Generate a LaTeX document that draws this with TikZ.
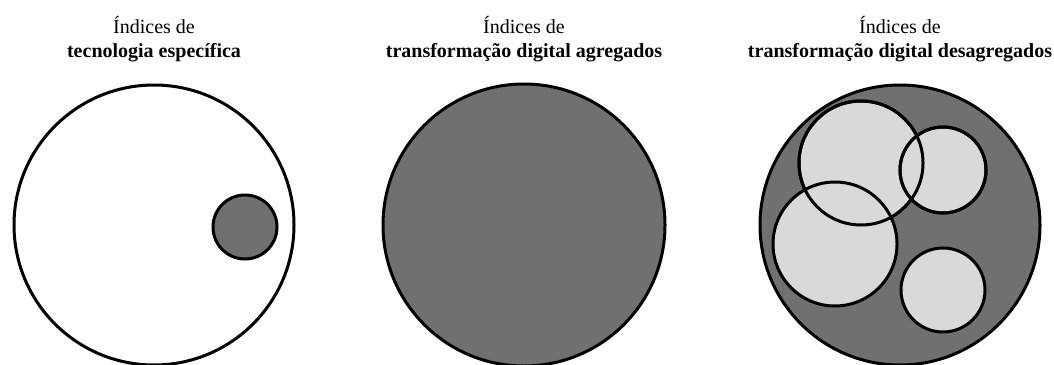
\documentclass[tikz,border=0pt]{standalone}
\usepackage{fontspec}
\setmainfont{Liberation Serif}
\definecolor{darkfill}{HTML}{707070}
\definecolor{lightfill}{HTML}{D9D9D9}
\begin{document}
\begin{tikzpicture}[x=1pt,y=-1pt,
  ring/.style={draw=black,line width=3pt},
  title/.style={font=\fontsize{20}{24}\selectfont,align=center,anchor=base}]
\useasboundingbox (0,0) rectangle (1054,364);
% panel 1
\node[title] (t1a) at (154,33) {Índices de};
\node[title] (t1b) at (154,57) {\bfseries tecnologia específica};
\path[ring,fill=white] (154,225) circle[radius=140];
\path[ring,fill=darkfill] (245,227) circle[radius=32];
% panel 2
\node[title] (t2a) at (524,33) {Índices de};
\node[title] (t2b) at (524,57) {\bfseries transformação digital agregados};
\path[ring,fill=darkfill] (524,225) circle[radius=141];
% panel 3
\node[title] (t3a) at (900,33) {Índices de};
\node[title] (t3b) at (900,57) {\bfseries transformação digital desagregados};
\path[ring,fill=darkfill] (900,225) circle[radius=140];
\path[ring,fill=lightfill] (861,163) circle[radius=62];
\path[ring,fill=lightfill] (943,170) circle[radius=43];
\path[ring,fill=lightfill] (835,244) circle[radius=62];
\path[ring,fill=lightfill] (943,290) circle[radius=42];
% redraw outlines of overlapped circles so all borders show
\draw[line width=3pt] (861,163) circle[radius=62];
\draw[line width=3pt] (943,170) circle[radius=43];
\end{tikzpicture}
\end{document}
